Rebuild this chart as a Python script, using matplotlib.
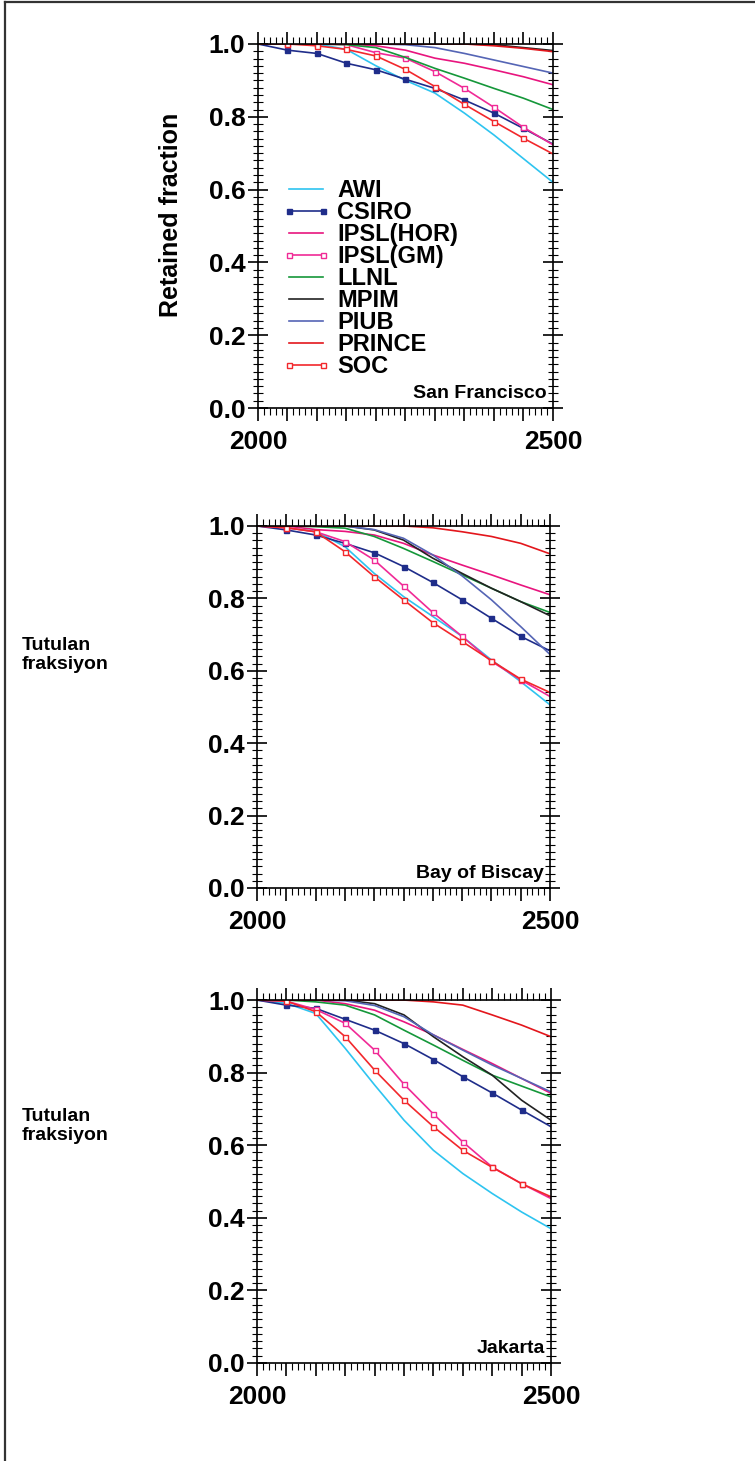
import matplotlib
matplotlib.use("Agg")
import matplotlib.pyplot as plt
from matplotlib.lines import Line2D
from matplotlib.ticker import MultipleLocator, FixedLocator, FormatStrFormatter

plt.rcParams['font.family'] = ['Liberation Sans', 'DejaVu Sans']

years = [2000, 2050, 2100, 2150, 2200, 2250, 2300, 2350, 2400, 2450, 2500]
models = ["AWI", "CSIRO", "IPSL(HOR)", "IPSL(GM)", "LLNL", "MPIM", "PIUB", "PRINCE", "SOC"]

san_francisco = {
    "AWI":       [1.0, 1.0, 1.0, 0.985, 0.94, 0.90, 0.865, 0.81, 0.75, 0.685, 0.62],
    "CSIRO":     [1.0, 0.983, 0.974, 0.947, 0.929, 0.903, 0.878, 0.846, 0.81, 0.768, 0.725],
    "IPSL(HOR)": [1.0, 1.0, 1.0, 1.0, 0.995, 0.983, 0.961, 0.947, 0.929, 0.91, 0.888],
    "IPSL(GM)":  [1.0, 1.0, 1.0, 0.998, 0.976, 0.961, 0.924, 0.878, 0.826, 0.771, 0.723],
    "LLNL":      [1.0, 1.0, 1.0, 0.998, 0.99, 0.963, 0.933, 0.906, 0.878, 0.851, 0.82],
    "MPIM":      [1.0, 1.0, 1.0, 1.0, 1.0, 1.0, 1.0, 1.0, 0.998, 0.99, 0.982],
    "PIUB":      [1.0, 1.0, 1.0, 1.0, 1.0, 0.998, 0.99, 0.974, 0.956, 0.938, 0.92],
    "PRINCE":    [1.0, 1.0, 1.0, 1.0, 1.0, 1.0, 1.0, 1.0, 0.995, 0.988, 0.979],
    "SOC":       [1.0, 1.0, 0.995, 0.985, 0.967, 0.93, 0.883, 0.834, 0.787, 0.741, 0.698],
}

bay_of_biscay = {
    "AWI":       [1.0, 0.995, 0.985, 0.943, 0.869, 0.805, 0.75, 0.695, 0.63, 0.57, 0.506],
    "CSIRO":     [1.0, 0.989, 0.975, 0.952, 0.926, 0.888, 0.844, 0.796, 0.745, 0.695, 0.655],
    "IPSL(HOR)": [1.0, 1.0, 0.99, 0.985, 0.975, 0.952, 0.92, 0.892, 0.865, 0.837, 0.81],
    "IPSL(GM)":  [1.0, 0.995, 0.984, 0.957, 0.906, 0.834, 0.761, 0.695, 0.626, 0.575, 0.529],
    "LLNL":      [1.0, 1.0, 0.998, 0.994, 0.971, 0.938, 0.902, 0.865, 0.828, 0.791, 0.761],
    "MPIM":      [1.0, 1.0, 1.0, 1.0, 0.989, 0.961, 0.911, 0.869, 0.828, 0.791, 0.752],
    "PIUB":      [1.0, 1.0, 1.0, 1.0, 0.99, 0.966, 0.92, 0.862, 0.796, 0.722, 0.645],
    "PRINCE":    [1.0, 1.0, 1.0, 1.0, 1.0, 1.0, 0.995, 0.984, 0.971, 0.952, 0.923],
    "SOC":       [1.0, 0.995, 0.984, 0.929, 0.86, 0.796, 0.733, 0.681, 0.628, 0.577, 0.54],
}

jakarta = {
    "AWI":       [1.0, 0.991, 0.963, 0.867, 0.766, 0.669, 0.586, 0.522, 0.467, 0.416, 0.37],
    "CSIRO":     [1.0, 0.986, 0.977, 0.947, 0.917, 0.88, 0.836, 0.789, 0.744, 0.697, 0.651],
    "IPSL(HOR)": [1.0, 1.0, 1.0, 0.99, 0.972, 0.94, 0.904, 0.864, 0.825, 0.784, 0.743],
    "IPSL(GM)":  [1.0, 0.997, 0.974, 0.936, 0.862, 0.768, 0.686, 0.609, 0.54, 0.494, 0.453],
    "LLNL":      [1.0, 1.0, 0.995, 0.986, 0.959, 0.917, 0.876, 0.834, 0.793, 0.763, 0.733],
    "MPIM":      [1.0, 1.0, 1.0, 1.0, 0.99, 0.959, 0.899, 0.844, 0.793, 0.724, 0.669],
    "PIUB":      [1.0, 1.0, 1.0, 0.998, 0.985, 0.954, 0.904, 0.862, 0.821, 0.784, 0.747],
    "PRINCE":    [1.0, 1.0, 1.0, 1.0, 1.0, 1.0, 0.995, 0.986, 0.959, 0.931, 0.899],
    "SOC":       [1.0, 0.997, 0.968, 0.899, 0.807, 0.724, 0.651, 0.586, 0.539, 0.494, 0.458],
}

sites = ["San Francisco", "Bay of Biscay", "Jakarta"]
site_data = [san_francisco, bay_of_biscay, jakarta]

# colour, marker, filled marker?
styles = {
    "AWI":       ("#2EC4F0", None, False),
    "CSIRO":     ("#1F2D8A", "s", True),
    "IPSL(HOR)": ("#E8157E", None, False),
    "IPSL(GM)":  ("#F02A96", "s", False),
    "LLNL":      ("#15973A", None, False),
    "MPIM":      ("#222222", None, False),
    "PIUB":      ("#5565B5", None, False),
    "PRINCE":    ("#E3161C", None, False),
    "SOC":       ("#F2282C", "s", False),
}

fig = plt.figure(figsize=(7.55, 14.61), dpi=100)

# panel boxes in figure fractions [left, bottom, width, height]
boxes = [
    [0.3417, 0.7207, 0.3907, 0.2492],
    [0.3404, 0.3922, 0.3881, 0.2478],
    [0.3404, 0.0671, 0.3894, 0.2484],
]

for i, (site, data) in enumerate(zip(sites, site_data)):
    ax = fig.add_axes(boxes[i])
    for m in models:
        col, mk, filled = styles[m]
        ax.plot(years, data[m], color=col, lw=1.2, label=m,
                marker=mk, markersize=3.6, markeredgewidth=1.0,
                markerfacecolor=(col if filled else "white"),
                markeredgecolor=col, markevery=slice(1, 10))
    ax.set_xlim(2000, 2500)
    ax.set_ylim(0, 1.0)

    ax.xaxis.set_major_locator(FixedLocator(list(range(2000, 2501, 50))))
    ax.set_xticklabels(["2000"] + [""] * 9 + ["2500"])
    ax.xaxis.set_minor_locator(MultipleLocator(10))
    ax.yaxis.set_major_locator(MultipleLocator(0.2))
    ax.yaxis.set_minor_locator(MultipleLocator(0.02))
    ax.yaxis.set_major_formatter(FormatStrFormatter("%.1f"))

    ax.tick_params(axis="x", which="major", direction="out", length=9, width=1.2,
                   top=True, bottom=True, pad=7, labelsize=19)
    ax.tick_params(axis="x", which="minor", direction="out", length=5, width=0.8,
                   top=True, bottom=True)
    ax.tick_params(axis="y", which="major", direction="inout", length=14, width=1.2,
                   left=True, right=True, pad=2, labelsize=19)
    ax.tick_params(axis="y", which="minor", direction="inout", length=7, width=0.8,
                   left=True, right=True)
    for lab in ax.get_xticklabels() + ax.get_yticklabels():
        lab.set_fontweight("bold")
    for sp in ax.spines.values():
        sp.set_linewidth(1.2)

    ax.text(0.98, 0.04, site, transform=ax.transAxes, ha="right", va="center",
            fontsize=14, fontweight="bold")

    if i == 0:
        leg = ax.legend(loc="upper left", bbox_to_anchor=(0.081, 0.628), frameon=False,
                        prop={"weight": "bold", "size": 17},
                        handlelength=2.05, handletextpad=0.3, labelspacing=-0.045,
                        borderpad=0, borderaxespad=0, numpoints=2)
        for h in leg.legend_handles:
            h.set_markevery(None)

# y labels
fig.text(171 / 755, 1 - 215 / 1461, "Retained fraction", rotation=90,
         ha="center", va="center", fontsize=18, fontweight="bold")
fig.text(22 / 755, 1 - 655 / 1461, "Tutulan\nfraksiyon", ha="left", va="center",
         fontsize=14, fontweight="bold", linespacing=1.2)
fig.text(22 / 755, 1 - 1126 / 1461, "Tutulan\nfraksiyon", ha="left", va="center",
         fontsize=14, fontweight="bold", linespacing=1.2)

# outer frame lines (top and left)
fig.add_artist(Line2D([5 / 755, 1.0], [1 - 2 / 1461, 1 - 2 / 1461],
                      transform=fig.transFigure, color="#333333", lw=1.6))
fig.add_artist(Line2D([5 / 755, 5 / 755], [0.0, 1 - 2 / 1461],
                      transform=fig.transFigure, color="#333333", lw=1.6))

fig.savefig("out.png", dpi=100)
